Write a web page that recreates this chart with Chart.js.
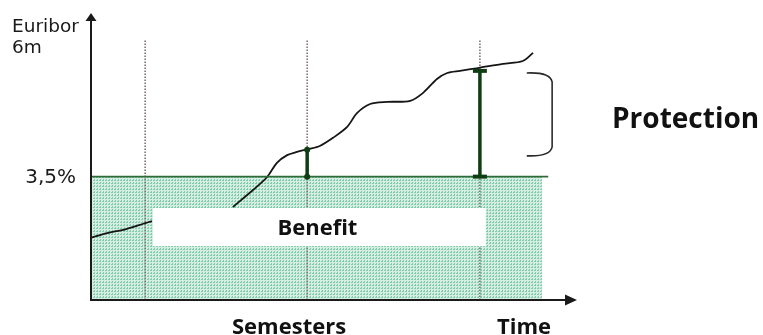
<!DOCTYPE html>
<html>
<head>
<meta charset="utf-8">
<script src="https://cdn.jsdelivr.net/npm/chart.js@4/dist/chart.umd.min.js"></script>
<style>
  html, body { margin: 0; padding: 0; background: #ffffff; }
  #wrap { width: 763px; height: 335px; }
</style>
</head>
<body>
<div id="wrap"><canvas id="chart" width="763" height="335"></canvas></div>
<script>
// Euribor 6m path: time (arbitrary units, 0–100) and rate (%); null = hidden stretch
const curveTime = [0, 3.5, 6.8, 10.2, 12.7, 20, 29.3, 33.4, 36.3, 38.3, 40.4, 42.4, 44.7, 47.1,
                   49.8, 52.7, 54.7, 57.4, 60.9, 65.6, 68.2, 71.1, 73.2, 75.8, 79.5, 84.6, 88.7, 90.8];
const curveRate = [1.76, 1.90, 1.99, 2.13, 2.24, null, 2.64, 3.12, 3.49, 3.89, 4.11, 4.20, 4.28, 4.37,
                   4.60, 4.91, 5.30, 5.56, 5.62, 5.65, 5.87, 6.27, 6.44, 6.50, 6.58, 6.70, 6.78, 7.01];

// Cap level and the span it covers
const capRate = 3.5;
const capLabel = '3,5%';
const capShadeEnd = 92.6;
const capLineEnd = 93.9;

// Semester reset dates and the top of their guide lines
const semesterTimes = [11.3, 44.5, 79.9];
const semesterTop = 7.38;

// Protection bars: time and Euribor level reached
const protectTimes = [44.5, 79.9];
const protectRates = [4.26, 6.50];

// Benefit band (time from/to, rate from/to)
const benefitTime = [12.9, 81.1];
const benefitRate = [1.53, 2.61];

// Brace beside the protection range (time left/right, rate top/bottom)
const braceTime = [89.5, 94.7];
const braceRate = [6.44, 4.09];

// Axis ranges
const timeRange = [0, 100];
const rateRange = [0, 8];

// Texts
const yTitle = ['Euribor', '6m'];
const xTitles = ['Semesters', 'Time'];
const benefitText = 'Benefit';
const protectText = 'Protection';

// Dotted mint shading
function dotPattern() {
  const c = document.createElement('canvas');
  c.width = 3; c.height = 3;
  const g = c.getContext('2d');
  g.fillStyle = '#d4efe2';
  g.fillRect(0, 0, 3, 3);
  g.fillStyle = '#84cbad';
  g.fillRect(0, 0, 2, 1);
  g.fillRect(1, 2, 1, 1);
  return g.createPattern(c, 'repeat');
}

const curvePoints = curveTime.map((t, i) => ({ x: t, y: curveRate[i] }));
const darkGreen = '#0e3d14';

const datasets = [
  {
    label: 'shade',
    data: [{ x: 0, y: capRate }, { x: capShadeEnd, y: capRate }],
    fill: 'origin',
    backgroundColor: dotPattern(),
    borderWidth: 0,
    pointRadius: 0,
    order: 6
  },
  ...semesterTimes.map(t => ({
    label: 'semester',
    data: [{ x: t, y: 0 }, { x: t, y: semesterTop }],
    borderColor: '#776a6a',
    borderWidth: 1.5,
    borderDash: [1.5, 1.5],
    pointRadius: 0,
    fill: false,
    order: 5
  })),
  {
    label: 'Euribor 6m',
    data: curvePoints,
    borderColor: '#151515',
    borderWidth: 1.8,
    tension: 0.3,
    spanGaps: false,
    pointRadius: 0,
    fill: false,
    order: 4
  },
  {
    label: 'cap',
    data: [{ x: 0, y: capRate }, { x: capLineEnd, y: capRate }],
    borderColor: '#2f6b38',
    borderWidth: 1.6,
    pointRadius: 0,
    fill: false,
    order: 3
  },
  {
    label: 'protection',
    data: [{ x: protectTimes[0], y: capRate }, { x: protectTimes[0], y: protectRates[0] }],
    borderColor: darkGreen,
    borderWidth: 3.5,
    pointStyle: 'circle',
    pointRadius: 3,
    pointBackgroundColor: darkGreen,
    pointBorderColor: darkGreen,
    pointBorderWidth: 0,
    fill: false,
    order: 2
  },
  {
    label: 'protection',
    data: [{ x: protectTimes[1], y: capRate }, { x: protectTimes[1], y: protectRates[1] }],
    borderColor: darkGreen,
    borderWidth: 3.5,
    pointStyle: 'line',
    pointRadius: 7,
    pointBorderColor: darkGreen,
    pointBorderWidth: 4,
    fill: false,
    order: 1
  }
];

// White band with the "Benefit" caption, laid over the curve and guides
const benefitBand = {
  id: 'benefitBand',
  afterDatasetDraw(chart, args) {
    if (chart.data.datasets[args.index].label !== 'Euribor 6m') return;
    const { ctx, scales: { x, y } } = chart;
    const x0 = x.getPixelForValue(benefitTime[0]);
    const x1 = x.getPixelForValue(benefitTime[1]);
    const y0 = y.getPixelForValue(benefitRate[1]);
    const y1 = y.getPixelForValue(benefitRate[0]);
    ctx.save();
    ctx.fillStyle = '#ffffff';
    ctx.fillRect(x0, y0, x1 - x0, y1 - y0);
    ctx.fillStyle = '#111111';
    ctx.font = 'bold 22px "Open Sans"';
    ctx.textAlign = 'center';
    ctx.textBaseline = 'alphabetic';
    ctx.fillText(benefitText, x.getPixelForValue(46.6), (y0 + y1) / 2 + 8);
    ctx.restore();
  }
};

// Arrowed axes, brace and captions
const decorations = {
  id: 'decorations',
  afterDatasetsDraw(chart) {
    const { ctx, chartArea: a, scales: { x, y } } = chart;
    ctx.save();
    ctx.strokeStyle = '#1a1a1a';
    ctx.fillStyle = '#1a1a1a';
    ctx.lineWidth = 2;
    const ax = a.left + 1;
    // y axis with arrow
    ctx.beginPath();
    ctx.moveTo(ax, a.bottom);
    ctx.lineTo(ax, a.top + 3);
    ctx.stroke();
    ctx.beginPath();
    ctx.moveTo(ax, a.top - 5);
    ctx.lineTo(ax - 5.5, a.top + 3);
    ctx.lineTo(ax + 5.5, a.top + 3);
    ctx.closePath();
    ctx.fill();
    // x axis with arrow
    ctx.beginPath();
    ctx.moveTo(a.left, a.bottom);
    ctx.lineTo(a.right - 12, a.bottom);
    ctx.stroke();
    ctx.beginPath();
    ctx.moveTo(a.right - 1, a.bottom);
    ctx.lineTo(a.right - 13, a.bottom - 5.5);
    ctx.lineTo(a.right - 13, a.bottom + 5.5);
    ctx.closePath();
    ctx.fill();

    // brace
    const bl = x.getPixelForValue(braceTime[0]);
    const br = x.getPixelForValue(braceTime[1]);
    const bt = y.getPixelForValue(braceRate[0]);
    const bb = y.getPixelForValue(braceRate[1]);
    ctx.strokeStyle = '#2a2a2a';
    ctx.lineWidth = 1.6;
    ctx.beginPath();
    ctx.moveTo(bl, bt);
    ctx.quadraticCurveTo(br - 2, bt - 1, br, bt + 9);
    ctx.lineTo(br, bb - 9);
    ctx.quadraticCurveTo(br - 2, bb + 1, bl, bb);
    ctx.stroke();

    // captions
    ctx.fillStyle = '#1a1a1a';
    ctx.textAlign = 'left';
    ctx.textBaseline = 'alphabetic';
    ctx.font = '18.5px "DejaVu Sans"';
    ctx.fillText(yTitle[0], 12, 32);
    ctx.fillText(yTitle[1], 12, 53);
    ctx.font = '20px "DejaVu Sans"';
    ctx.textAlign = 'right';
    ctx.fillText(capLabel, 76, y.getPixelForValue(capRate) + 6);
    ctx.textAlign = 'left';
    ctx.fillStyle = '#111111';
    ctx.font = 'bold 28px "Open Sans"';
    ctx.fillText(protectText, 612, 128);
    ctx.font = 'bold 22px "Open Sans"';
    ctx.fillText(xTitles[0], 232, 334);
    ctx.fillText(xTitles[1], 497, 334);
    ctx.restore();
  }
};

new Chart(document.getElementById('chart'), {
  type: 'line',
  data: { datasets },
  options: {
    responsive: false,
    animation: false,
    devicePixelRatio: 1,
    layout: { padding: { left: 90, right: 185, top: 18, bottom: 35 } },
    scales: {
      x: { type: 'linear', min: timeRange[0], max: timeRange[1], display: false },
      y: { type: 'linear', min: rateRange[0], max: rateRange[1], display: false }
    },
    plugins: { legend: { display: false }, tooltip: { enabled: false } }
  },
  plugins: [benefitBand, decorations]
});
</script>
</body>
</html>
